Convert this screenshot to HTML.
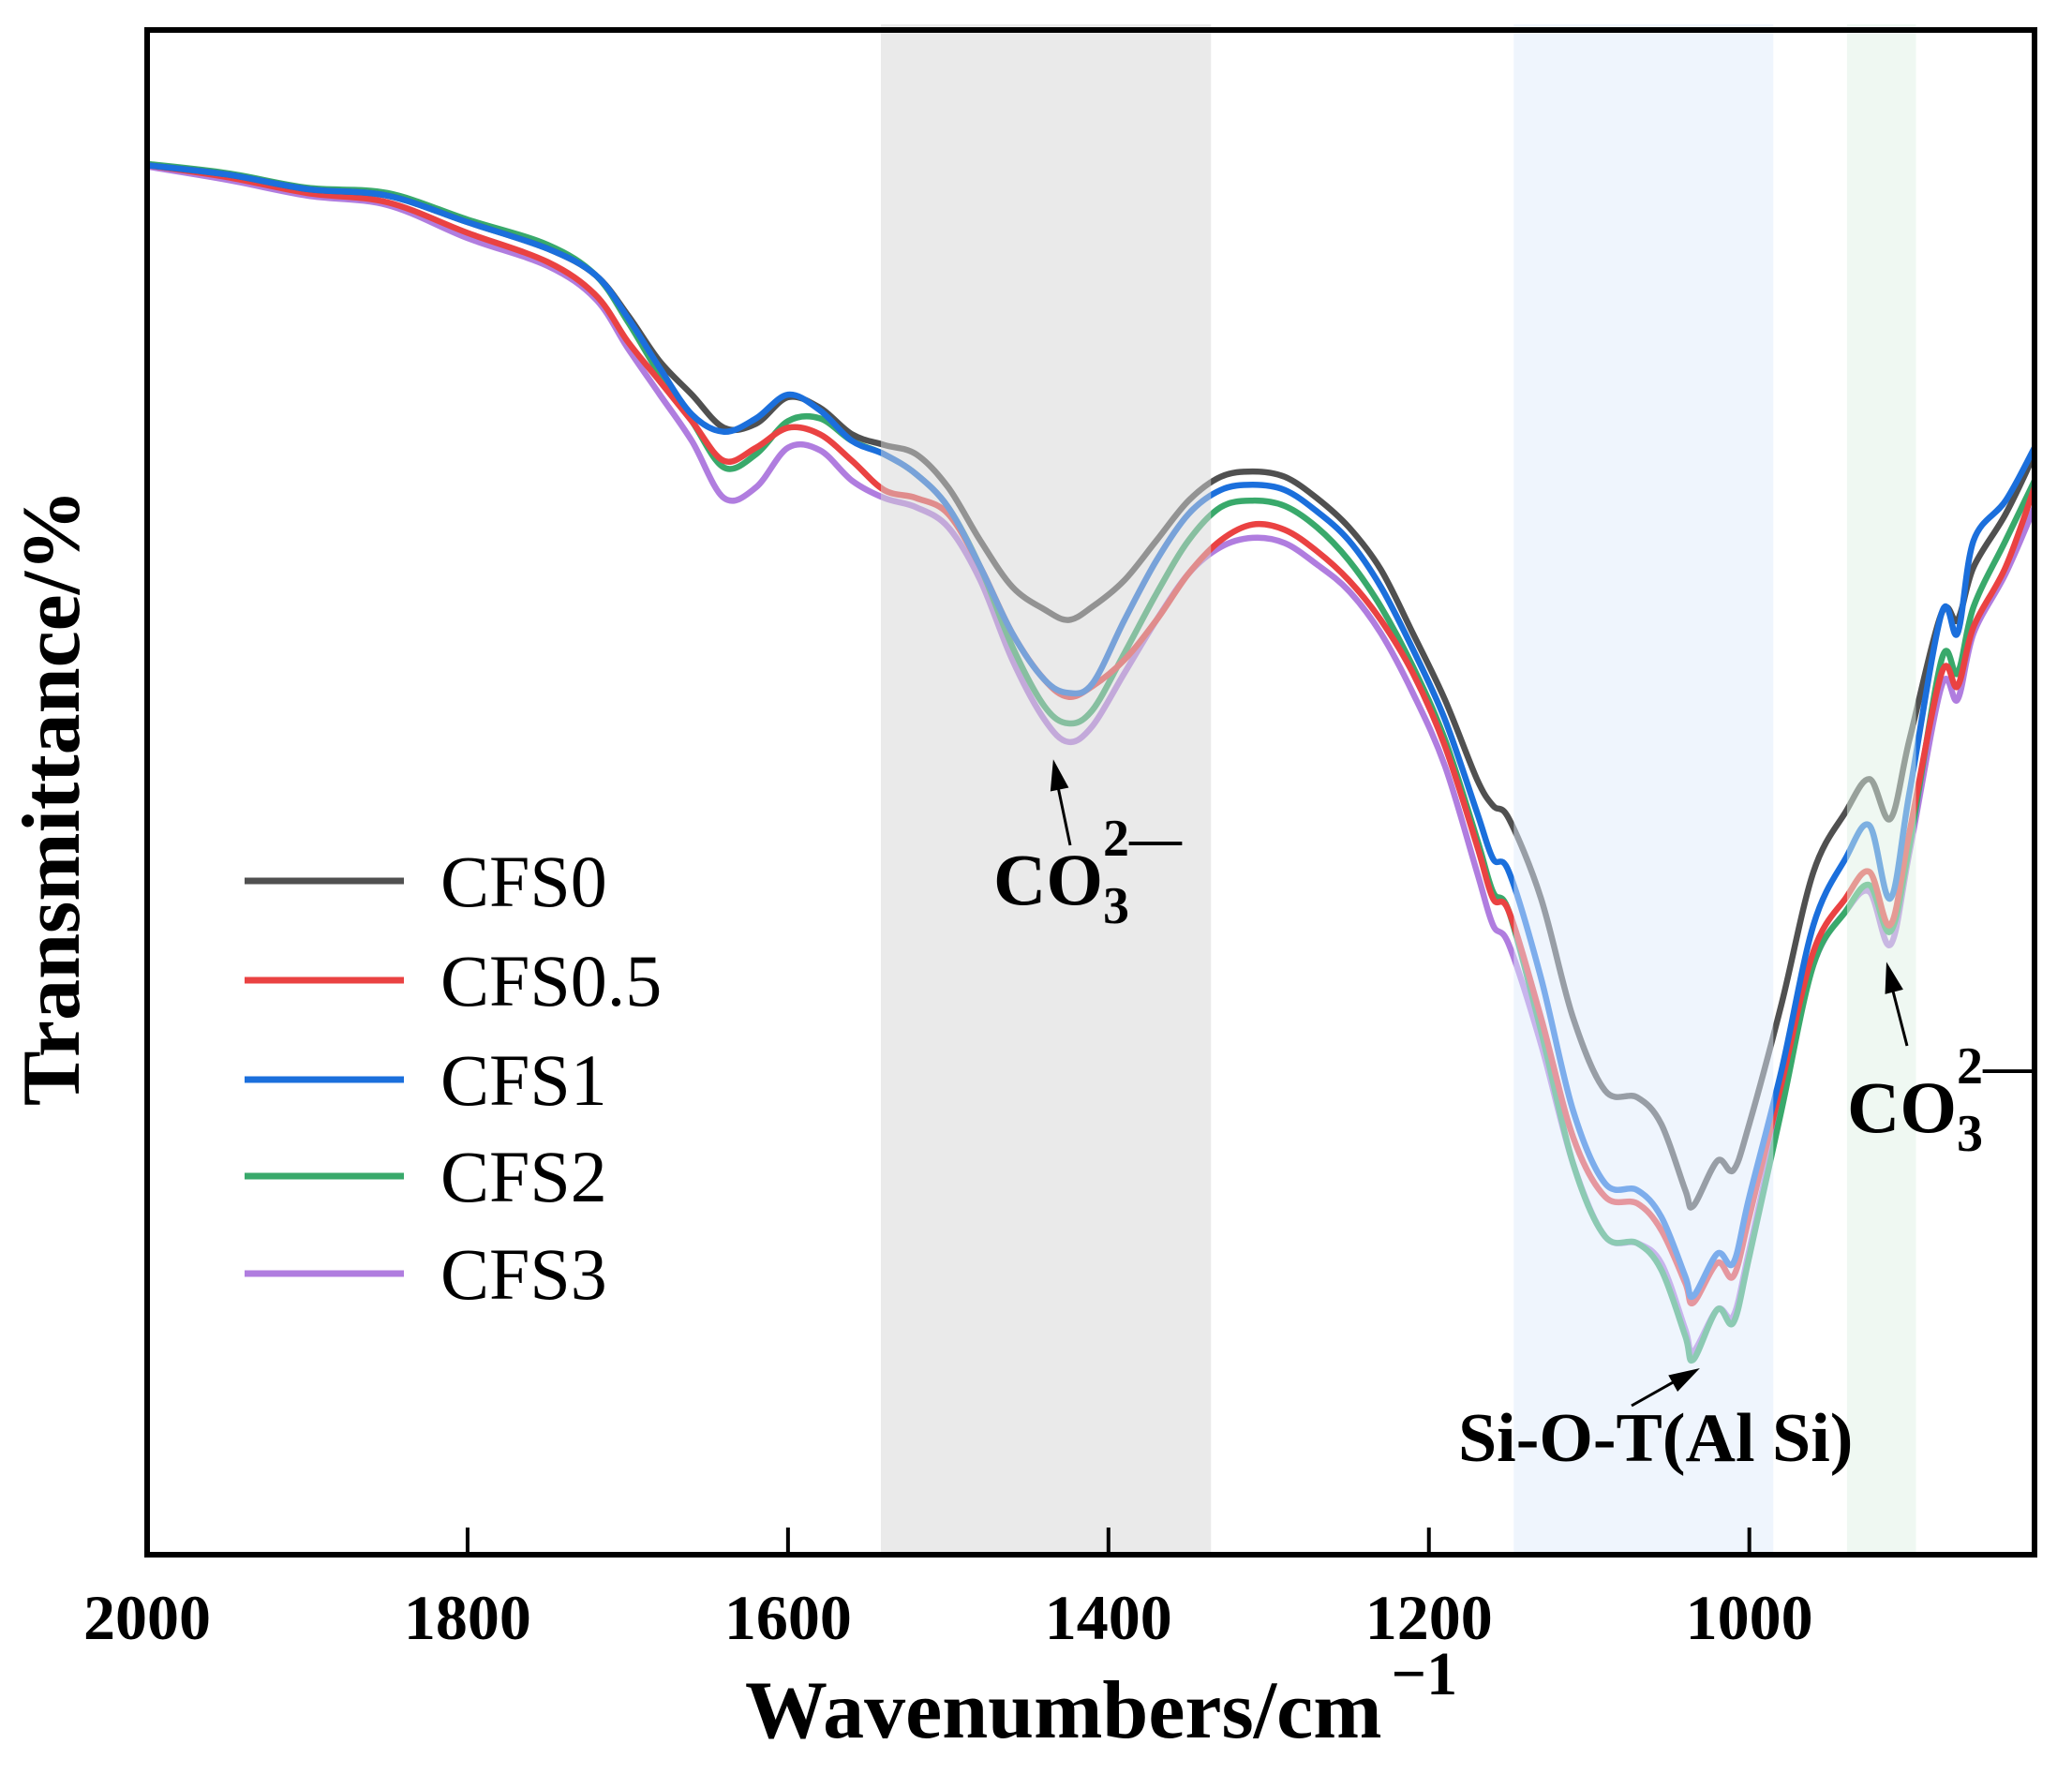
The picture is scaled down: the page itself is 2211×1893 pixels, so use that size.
<!DOCTYPE html>
<html><head><meta charset="utf-8"><style>
html,body{margin:0;padding:0;background:#fff}
svg{display:block}
text{font-family:"Liberation Serif",serif}
</style></head><body>
<svg id="chart" width="2211" height="1893" viewBox="0 0 2211 1893" xmlns="http://www.w3.org/2000/svg">
<defs>
<marker id="ah" markerWidth="10" markerHeight="10" refX="9" refY="5" orient="auto" markerUnits="userSpaceOnUse" viewBox="0 0 10 10" style="overflow:visible">
<path d="M0,0 L10,5 L0,10 z" transform="translate(-4,-4) scale(3.3,2.0)" fill="#000"/>
</marker>
</defs>
<g id="series"></g>
<g id="bands"></g>
<rect x="157" y="32" width="2014" height="1627" fill="none" stroke="#000" stroke-width="6"/>
<g id="ticks"></g>
<text transform="translate(84,851) rotate(-90)" text-anchor="middle" font-size="88" font-weight="bold">Transmittance/%</text>
<text x="795" y="1854" font-size="88" font-weight="bold">Wavenumbers/cm<tspan dx="10" dy="-46" font-size="66">−1</tspan></text>
<g id="legend"></g>
<g>
<line x1="1142" y1="902" x2="1127" y2="830" stroke="#000" stroke-width="3" marker-end="url(#ah)"/>
<text x="1060" y="965" font-size="78" font-weight="bold">CO<tspan font-size="56" dy="20">3</tspan><tspan font-size="56" dx="-28" dy="-72">2—</tspan></text>
</g>
<g>
<line x1="2035" y1="1116" x2="2017" y2="1046" stroke="#000" stroke-width="3" marker-end="url(#ah)"/>
<text x="1971" y="1208" font-size="78" font-weight="bold">CO<tspan font-size="56" dy="20">3</tspan><tspan font-size="56" dx="-28" dy="-72">2—</tspan></text>
</g>
<g>
<line x1="1741" y1="1500" x2="1796" y2="1469" stroke="#000" stroke-width="3" marker-end="url(#ah)"/>
<text x="1556" y="1559" font-size="74" font-weight="bold">Si-O-T(Al Si)</text>
</g>
</svg>
<script>
const wavenumbers=[2000,1950,1900,1850,1800,1750,1720,1700,1680,1660,1640,1620,1600,1580,1560,1540,1520,1500,1480,1460,1440,1425,1410,1390,1370,1350,1330,1310,1290,1270,1250,1230,1210,1190,1170,1160,1150,1130,1110,1090,1070,1055,1040,1035,1020,1010,1000,980,960,940,925,912,900,880,870,860,840,822];
// relative absorbance depth (a.u., larger = lower transmittance)
const cfs0=[127,134,145,150,170,190,210,240,275,300,325,322,302,310,330,338,345,370,410,445,462,470,460,440,410,380,362,358,362,378,400,432,480,530,590,610,620,680,770,825,830,850,900,912,878,885,850,760,660,615,590,620,560,465,470,430,390,345];
const cfs05=[127,136,148,155,178,200,225,260,290,320,350,340,325,330,350,372,378,390,430,480,515,528,520,500,470,435,410,398,402,418,440,470,510,565,640,680,690,770,860,905,910,930,970,985,955,965,920,820,720,680,660,700,630,510,520,475,430,370];
const cfs1=[127,134,145,150,170,190,210,242,280,315,328,318,300,312,335,345,360,385,430,480,515,525,518,470,425,390,372,368,372,388,410,445,492,545,615,650,660,740,840,895,900,920,965,980,948,955,905,810,700,650,625,680,600,465,480,410,380,340];
const cfs2=[126,133,144,148,168,187,210,245,285,320,355,345,320,318,335,345,360,385,430,490,535,548,538,495,450,410,385,380,384,400,425,460,505,560,635,675,690,780,880,935,940,960,1010,1028,990,1000,950,840,730,690,670,705,640,500,510,460,410,365];
const cfs3=[128,138,150,157,182,203,228,265,300,335,378,370,340,342,365,378,385,400,440,500,545,562,550,510,470,435,415,408,412,428,448,480,525,580,660,700,715,790,880,935,940,955,1005,1022,990,995,945,835,730,690,675,715,645,520,530,480,435,385];
const seriesNames=["CFS0","CFS0.5","CFS1","CFS2","CFS3"];
const tickValues=[1800,1600,1400,1200,1000];
const tickLabels=["2000","1800","1600","1400","1200","1000"];
const tickLabelValues=[2000,1800,1600,1400,1200,1000];
const bandStarts=[1542,1147,939];
const bandEnds=[1336,985,896];

const X0=157,X1=2171,Y0=32,Y1=1659;
const xMin=2000,xMax=822, aMin=25,aMax=1175;
function xs(w){return X0+(xMin-w)/(xMin-xMax)*(X1-X0);}
function ys(a){return Y0+(a-aMin)/(aMax-aMin)*(Y1-Y0);}
const NS="http://www.w3.org/2000/svg";
const colors={"CFS0":"#505050","CFS0.5":"#ea4242","CFS1":"#1b6fdc","CFS2":"#39a96b","CFS3":"#b07ddf"};
const dataMap={"CFS0":cfs0,"CFS0.5":cfs05,"CFS1":cfs1,"CFS2":cfs2,"CFS3":cfs3};
function pathFor(vals){
  const p=wavenumbers.map((w,i)=>[xs(w),ys(vals[i])]);
  let d="M"+p[0][0].toFixed(1)+","+p[0][1].toFixed(1);
  for(let i=0;i<p.length-1;i++){
    const p0=p[Math.max(i-1,0)],p1=p[i],p2=p[i+1],p3=p[Math.min(i+2,p.length-1)];
    const c1=[p1[0]+(p2[0]-p0[0])/6,p1[1]+(p2[1]-p0[1])/6];
    const c2=[p2[0]-(p3[0]-p1[0])/6,p2[1]-(p3[1]-p1[1])/6];
    d+=" C"+c1[0].toFixed(1)+","+c1[1].toFixed(1)+" "+c2[0].toFixed(1)+","+c2[1].toFixed(1)+" "+p2[0].toFixed(1)+","+p2[1].toFixed(1);
  }
  return d;
}
const sg=document.getElementById("series");
["CFS3","CFS2","CFS0.5","CFS0","CFS1"].forEach(n=>{
  const el=document.createElementNS(NS,"path");
  el.setAttribute("d",pathFor(dataMap[n]));
  el.setAttribute("fill","none");
  el.setAttribute("stroke",colors[n]);
  el.setAttribute("stroke-width","6.5");
  el.setAttribute("stroke-linejoin","round");
  
  
  sg.appendChild(el);
});
const bandFills=["rgba(214,214,214,0.5)","rgba(223,235,251,0.5)","rgba(223,241,229,0.5)"];
const bandNames=["band-carbonate-1430","band-si-o-t","band-carbonate-875"];
const bg=document.getElementById("bands");
bandStarts.forEach((s,i)=>{
  const r=document.createElementNS(NS,"rect");
  const a=xs(s),b=xs(bandEnds[i]);
  r.setAttribute("x",a);r.setAttribute("width",b-a);
  r.setAttribute("y",26);r.setAttribute("height",1636);
  r.setAttribute("fill",bandFills[i]);
  
  
  bg.appendChild(r);
});
const tg=document.getElementById("ticks");
tickValues.forEach(v=>{
  const l=document.createElementNS(NS,"line");
  l.setAttribute("x1",xs(v));l.setAttribute("x2",xs(v));
  l.setAttribute("y1",Y1);l.setAttribute("y2",Y1-29);
  l.setAttribute("stroke","#000");l.setAttribute("stroke-width","4");
  
  
  tg.appendChild(l);
});
tickLabelValues.forEach((v,i)=>{
  const t=document.createElementNS(NS,"text");
  t.setAttribute("x",xs(v));t.setAttribute("y",1749);
  t.setAttribute("text-anchor","middle");t.setAttribute("font-size","68");t.setAttribute("font-weight","bold");
  t.textContent=tickLabels[i];
  
  
  tg.appendChild(t);
});
const lg=document.getElementById("legend");
const legendY=[940,1046,1152,1255,1359];
seriesNames.forEach((n,i)=>{
  const g=document.createElementNS(NS,"g");
  
  
  const l=document.createElementNS(NS,"line");
  l.setAttribute("x1",261);l.setAttribute("x2",431);
  l.setAttribute("y1",legendY[i]);l.setAttribute("y2",legendY[i]);
  l.setAttribute("stroke",colors[n]);l.setAttribute("stroke-width","7");
  g.appendChild(l);
  const t=document.createElementNS(NS,"text");
  t.setAttribute("x",470);t.setAttribute("y",legendY[i]+27);
  t.setAttribute("font-size","78");
  t.textContent=n;
  g.appendChild(t);
  lg.appendChild(g);
});
</script>
</body></html>
